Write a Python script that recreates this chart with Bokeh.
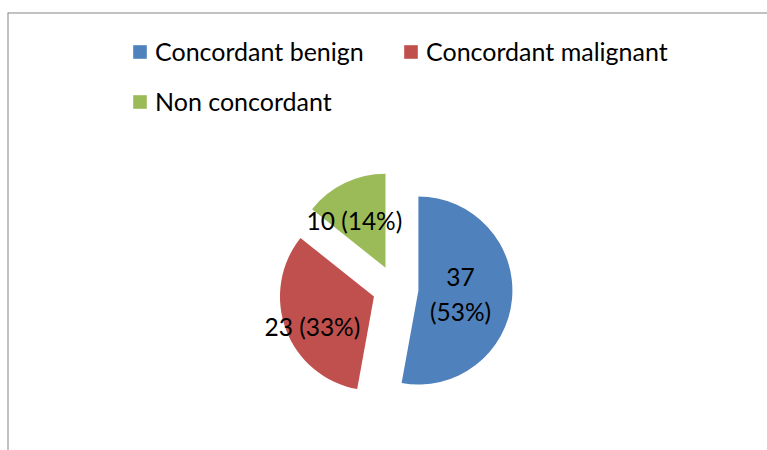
import math
from bokeh.plotting import figure
from bokeh.models import ColumnDataSource, Span, Legend, LegendItem, Range1d
from bokeh.core.properties import value
from bokeh.embed import file_html
from bokeh.resources import INLINE

# ---- data ----
categories = ["Concordant benign", "Concordant malignant", "Non concordant"]
counts = [37, 23, 10]
colors = ["#4F81BD", "#C0504D", "#9BBB59"]
label_breaks = ["\n", " ", " "]          # how each data label is wrapped

# ---- styling / geometry constants ----
W, H = 767, 450
LEFT, TOP = 7, 12
FW, FH = W - LEFT, H - TOP
CX, CY = 388, 162          # pie centre (data units = px)
R = 94                     # radius
EXPLODE = 23               # explosion distance of each slice
label_r = [0.45, 0.73, 0.60]       # label distance as fraction of radius
label_da = [0.0, 5.6, 7.8]         # angular nudge of labels (deg)
FONT = "Lato"

p = figure(width=W, height=H, output_backend="svg", toolbar_location=None,
           x_range=Range1d(0, FW), y_range=Range1d(0, FH),
           x_axis_type=None, y_axis_type=None, min_border=0)
p.min_border_top = TOP
p.min_border_left = LEFT
p.min_border_right = 0
p.min_border_bottom = 0
p.grid.visible = False
p.outline_line_color = None
p.background_fill_color = "white"
p.border_fill_color = "white"

total = sum(counts)
cum = 0
xs, ys, starts, ends = [], [], [], []
lx, ly, ltext = [], [], []
for i, c in enumerate(counts):
    a0 = 90 - 360 * cum / total
    cum += c
    a1 = 90 - 360 * cum / total
    bis = math.radians((a0 + a1) / 2)
    x = CX + EXPLODE * math.cos(bis)
    y = CY + EXPLODE * math.sin(bis)
    xs.append(x); ys.append(y)
    starts.append(math.radians(a0)); ends.append(math.radians(a1))
    la = math.radians((a0 + a1) / 2 + label_da[i])
    lx.append(x + label_r[i] * R * math.cos(la))
    ly.append(y + label_r[i] * R * math.sin(la))
    pct = round(100 * c / total)
    ltext.append(f"{c}{label_breaks[i]}({pct}%)")

renderers = []
for i in range(len(counts)):
    src = ColumnDataSource(dict(x=[xs[i]], y=[ys[i]], s=[starts[i]], e=[ends[i]]))
    r = p.wedge(x="x", y="y", radius=R, start_angle="s", end_angle="e",
                direction="clock", source=src, fill_color=colors[i],
                line_color=None)
    renderers.append(r)

lsrc = ColumnDataSource(dict(x=lx, y=ly, text=ltext))
p.text(x="x", y="y", text="text", source=lsrc, text_font=value(FONT),
       text_font_size=value("24.5px"), text_align="center",
       text_baseline="middle", text_line_height=1.2, text_color="black")

# frame lines (left and top)
p.add_layout(Span(location=0, dimension="height", line_color="#858585", line_width=2))
p.add_layout(Span(location=FH, dimension="width", line_color="#858585", line_width=2))

legend = Legend(items=[LegendItem(label=categories[i], renderers=[renderers[i]])
                       for i in range(len(categories))],
                orientation="horizontal", ncols=2,
                location=(124, 333), padding=0, margin=0,
                border_line_color=None, background_fill_alpha=0,
                glyph_width=17, glyph_height=17, label_standoff=7,
                label_width=229, label_height=32, spacing=18,
                label_text_font=FONT, label_text_font_size="25px",
                label_text_color="black")
p.add_layout(legend)

open("out.html", "w").write(file_html(p, INLINE))
